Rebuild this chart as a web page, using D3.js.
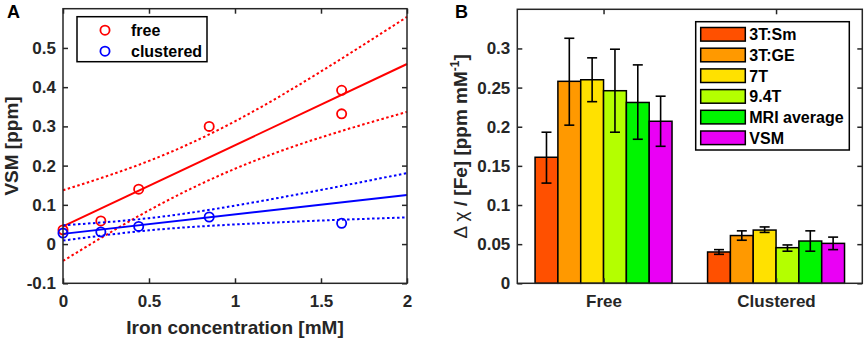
<!DOCTYPE html>
<html>
<head>
<meta charset="utf-8">
<script src="https://cdn.jsdelivr.net/npm/d3@7"></script>
<style>
  body { margin: 0; background: #fff; }
  svg { font-family: "Liberation Sans", Arial, sans-serif; font-weight: bold; }
</style>
</head>
<body>
<svg id="chart" width="865" height="341"></svg>
<script>
// ---- DATA: panel A ----
const freeX = [0, 0.22, 0.44, 0.85, 1.62, 1.62];
const freeY = [0.036, 0.059, 0.14, 0.30, 0.392, 0.332];
const clusX = [0, 0.22, 0.44, 0.85, 1.62];
const clusY = [0.028, 0.031, 0.045, 0.069, 0.053];

const fitX = [0, 2];
const freeFit = [0.045, 0.459];
const clusFit = [0.026, 0.125];

const bandX = [0, 0.5, 1, 1.5, 2];
const freeUpper = [0.137, 0.212, 0.313, 0.44, 0.579];
const freeLower = [-0.043, 0.086, 0.192, 0.272, 0.337];
const clusUpper = [0.048, 0.066, 0.098, 0.138, 0.181];
const clusLower = [0.009, 0.035, 0.05, 0.06, 0.068];

const ticksAX = [0, 0.5, 1, 1.5, 2];
const ticksAY = [-0.1, 0, 0.1, 0.2, 0.3, 0.4, 0.5];

// ---- DATA: panel B ----
const groups = ["Free", "Clustered"];
const methods = ["3T:Sm", "3T:GE", "7T", "9.4T", "MRI average", "VSM"];
const methodColors = ["#ff5000", "#ff9900", "#ffe100", "#b4ff00", "#00f500", "#ea00f5"];
const freeVals = [0.161, 0.258, 0.26, 0.246, 0.231, 0.207];
const freeLo = [0.128, 0.202, 0.232, 0.193, 0.184, 0.175];
const freeHi = [0.193, 0.313, 0.288, 0.299, 0.279, 0.239];
const clusVals = [0.040, 0.061, 0.068, 0.0455, 0.054, 0.051];
const clusLo = [0.037, 0.055, 0.065, 0.041, 0.041, 0.043];
const clusHi = [0.043, 0.067, 0.072, 0.049, 0.067, 0.059];
const ticksBY = [0, 0.05, 0.1, 0.15, 0.2, 0.25, 0.3];

const axisColor = "#262626";
const svg = d3.select("#chart");

// helper: box with inward ticks on all four sides
function boxAxes(g, x, y, xt, yt, w, h, xFmt, yFmt) {
  const tl = 5;
  g.append("g").attr("transform", `translate(0,${h})`)
    .call(d3.axisBottom(x).tickValues(xt).tickSize(-tl).tickPadding(12).tickFormat(xFmt));
  g.append("g").call(d3.axisTop(x).tickValues(xt).tickSize(-tl).tickFormat(""));
  g.append("g")
    .call(d3.axisLeft(y).tickValues(yt).tickSize(-tl).tickPadding(7).tickFormat(yFmt));
  g.append("g").attr("transform", `translate(${w},0)`)
    .call(d3.axisRight(y).tickValues(yt).tickSize(-tl).tickFormat(""));
  g.selectAll(".domain").remove();
  g.selectAll(".tick line").attr("stroke", axisColor).attr("stroke-width", 1.5);
  g.selectAll(".tick text").attr("fill", axisColor).style("font-size", "17px")
    .style("font-family", "'Liberation Sans', Arial, sans-serif").style("font-weight", "bold");
  g.append("rect").attr("width", w).attr("height", h)
    .attr("fill", "none").attr("stroke", axisColor).attr("stroke-width", 1.5);
}

const fmt = d => String(+d.toFixed(2));

// ================= PANEL A =================
const A = { left: 63, top: 8.7, w: 344, h: 274.6 };
const gA = svg.append("g").attr("transform", `translate(${A.left},${A.top})`);
const xA = d3.scaleLinear().domain([0, 2]).range([0, A.w]);
const yA = d3.scaleLinear().domain([-0.1, 0.6]).range([A.h, 0]);

const lineA = d3.line().x(d => xA(d[0])).y(d => yA(d[1]));
const bandLine = d3.line().x(d => xA(d[0])).y(d => yA(d[1])).curve(d3.curveNatural);

const plotA = gA.append("g");
function drawSet(xs, ys, fit, up, lo, color) {
  plotA.append("path").attr("d", lineA(fitX.map((v, i) => [v, fit[i]])))
    .attr("fill", "none").attr("stroke", color).attr("stroke-width", 2);
  [up, lo].forEach(arr => {
    plotA.append("path").attr("d", bandLine(bandX.map((v, i) => [v, arr[i]])))
      .attr("fill", "none").attr("stroke", color).attr("stroke-width", 2)
      .attr("stroke-dasharray", "2.5,2.5");
  });
  plotA.selectAll(null).data(xs.map((v, i) => [v, ys[i]])).enter()
    .append("circle")
    .attr("cx", d => xA(d[0])).attr("cy", d => yA(d[1])).attr("r", 4.6)
    .attr("fill", "none").attr("stroke", color).attr("stroke-width", 1.8);
}
drawSet(freeX, freeY, freeFit, freeUpper, freeLower, "#ff0000");
drawSet(clusX, clusY, clusFit, clusUpper, clusLower, "#0000ff");

boxAxes(gA, xA, yA, ticksAX, ticksAY, A.w, A.h, fmt, fmt);

// legend A
const legA = gA.append("g").attr("transform", "translate(14,8)");
legA.append("rect").attr("width", 130).attr("height", 45)
  .attr("fill", "#fff").attr("stroke", "#000").attr("stroke-width", 1.5);
[["free", "#ff0000"], ["clustered", "#0000ff"]].forEach((d, i) => {
  legA.append("circle").attr("cx", 28).attr("cy", 13.5 + i * 21).attr("r", 4.6)
    .attr("fill", "none").attr("stroke", d[1]).attr("stroke-width", 1.8);
  legA.append("text").attr("x", 54).attr("y", 19.5 + i * 21)
    .style("font-size", "16px").attr("fill", "#000").text(d[0]);
});

// labels A
svg.append("text").attr("x", A.left + A.w / 2).attr("y", 334)
  .attr("text-anchor", "middle").style("font-size", "19px").attr("fill", axisColor)
  .text("Iron concentration [mM]");
svg.append("text").attr("transform", `translate(18,${A.top + A.h / 2}) rotate(-90)`)
  .attr("text-anchor", "middle").style("font-size", "19px").attr("fill", axisColor)
  .text("VSM [ppm]");
svg.append("text").attr("x", 7).attr("y", 18).style("font-size", "18px")
  .attr("fill", "#000").text("A");

// ================= PANEL B =================
const B = { left: 517.3, top: 9.3, w: 345, h: 274 };
const gB = svg.append("g").attr("transform", `translate(${B.left},${B.top})`);
const xB = d3.scaleLinear().domain([0.5, 2.5]).range([0, B.w]);
const yB = d3.scaleLinear().domain([0, 0.35]).range([B.h, 0]);
const inner = d3.scaleBand().domain(methods).range([-0.397, 0.397]).paddingInner(0);

const barData = [];
groups.forEach((grp, gi) => {
  const v = gi === 0 ? freeVals : clusVals;
  const lo = gi === 0 ? freeLo : clusLo;
  const hi = gi === 0 ? freeHi : clusHi;
  methods.forEach((m, mi) => {
    barData.push({ pos: gi + 1, m, color: methodColors[mi], v: v[mi], lo: lo[mi], hi: hi[mi] });
  });
});

const bars = gB.append("g");
bars.selectAll("rect").data(barData).enter().append("rect")
  .attr("x", d => xB(d.pos + inner(d.m)))
  .attr("width", d => xB(d.pos + inner(d.m) + inner.bandwidth()) - xB(d.pos + inner(d.m)))
  .attr("y", d => yB(d.v))
  .attr("height", d => yB(0) - yB(d.v))
  .attr("fill", d => d.color).attr("stroke", "#000").attr("stroke-width", 1.5);

const errs = gB.append("g").attr("stroke", "#000").attr("stroke-width", 1.6);
barData.forEach(d => {
  const cx = xB(d.pos + inner(d.m) + inner.bandwidth() / 2);
  errs.append("line").attr("x1", cx).attr("x2", cx).attr("y1", yB(d.lo)).attr("y2", yB(d.hi));
  [d.lo, d.hi].forEach(e => {
    errs.append("line").attr("x1", cx - 5).attr("x2", cx + 5).attr("y1", yB(e)).attr("y2", yB(e));
  });
});

const xBAxisTicks = [1, 2];
boxAxes(gB, xB, yB, xBAxisTicks, ticksBY, B.w, B.h, (d, i) => groups[i], fmt);
gB.selectAll(".tick text").filter(function () { return groups.includes(this.textContent); })
  .attr("dy", "0.71em");

// legend B
const legB = gB.append("g").attr("transform", `translate(${695.7 - B.left},${21.7 - B.top})`);
legB.append("rect").attr("width", 153.6).attr("height", 128.3)
  .attr("fill", "#fff").attr("stroke", "#000").attr("stroke-width", 1.5);
methods.forEach((m, i) => {
  const cy = 12.6 + i * 20.7;
  legB.append("rect").attr("x", 5).attr("y", cy - 6.8).attr("width", 44.6).attr("height", 13.6)
    .attr("fill", methodColors[i]).attr("stroke", "#000").attr("stroke-width", 1.5);
  legB.append("text").attr("x", 53.6).attr("y", cy + 6)
    .style("font-size", "16px").attr("fill", "#000").text(m);
});

// labels B
const yl = svg.append("text")
  .attr("transform", `translate(467,${B.top + B.h / 2}) rotate(-90)`)
  .attr("text-anchor", "middle").style("font-size", "19px").attr("fill", axisColor);
yl.append("tspan").style("font-weight", "normal").text("Δ χ");
yl.append("tspan").text(" / [Fe]  [ppm mM");
yl.append("tspan").style("font-size", "12px").attr("dy", "-8").text("-1");
yl.append("tspan").attr("dy", "8").text("]");
svg.append("text").attr("x", 455).attr("y", 18).style("font-size", "18px")
  .attr("fill", "#000").text("B");
</script>
</body>
</html>
